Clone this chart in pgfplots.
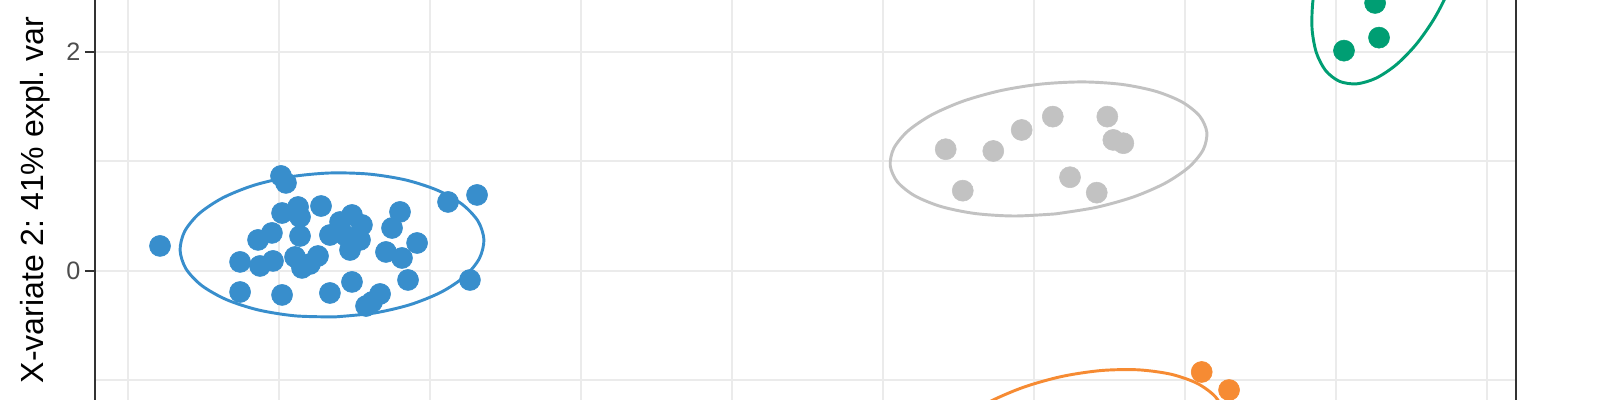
\documentclass[border=0pt]{standalone}
\usepackage{fontspec}
\setmainfont{Liberation Sans}
\usepackage{pgfplots}
\pgfplotsset{compat=1.18}
\frenchspacing
\definecolor{mixblue}{HTML}{388ECC}
\definecolor{mixorange}{HTML}{F68B33}
\definecolor{mixgrey}{HTML}{C2C2C2}
\definecolor{mixgreen}{HTML}{009E73}
\definecolor{gridgrey}{HTML}{EBEBEB}
\definecolor{axisgrey}{HTML}{333333}
\definecolor{textgrey}{HTML}{4D4D4D}

\begin{document}
\begin{tikzpicture}
\begin{axis}[
  scale only axis,
  width=1065.75pt, height=300pt,
  xmin=-0.2165, xmax=9.192,
  ymin=-1.182, ymax=2.474,
  axis line style={draw=none},
  xtick={0,...,9}, xticklabels={},
  ytick={0,2}, minor ytick={-1,1}, ytick pos=left,
  tick align=outside, major tick length=7.5pt, minor tick length=0pt,
  y tick style={draw=axisgrey, line width=1.3pt},
  grid=both,
  major grid style={draw=gridgrey, line width=1.3pt},
  minor grid style={draw=gridgrey, line width=1.3pt},
  /pgf/number format/assume math mode=true,
  yticklabel style={font=\fontsize{18.9}{20}\selectfont, text=textgrey},
  ylabel={X-variate 2: 41\% expl. var},
  every axis y label/.style={at={(rel axis cs:0,0.5)}, xshift=-38.6pt, rotate=90,
    anchor=base, font=\fontsize{24}{28}\selectfont\frenchspacing, text=black},
  pt/.style={only marks, mark=*, mark size=7.9pt, color=#1},
  ell/.style={color=#1, line width=2.2pt, smooth, no marks, line join=round},
]
% blue group
\addplot[pt=mixblue] coordinates {
(0.214,0.226) (1.015,0.866) (1.048,0.802) (1.022,0.527) (1.128,0.582)
(1.141,0.491) (1.280,0.591) (0.863,0.281) (0.955,0.345) (1.141,0.317)
(0.744,0.080) (0.876,0.043) (0.962,0.089) (1.108,0.125) (1.207,0.061)
(1.260,0.134) (1.154,0.025) (0.744,-0.195) (1.022,-0.222) (1.406,0.445)
(1.485,0.509) (1.551,0.418) (1.445,0.317) (1.538,0.281) (1.472,0.189)
(1.339,0.326) (1.803,0.537) (1.750,0.390) (1.710,0.171) (1.816,0.116)
(1.916,0.253) (1.485,-0.103) (1.339,-0.204) (1.856,-0.085) (1.671,-0.213)
(1.618,-0.286) (1.578,-0.323) (2.121,0.628) (2.313,0.692) (2.266,-0.085)
};
% grey group
\addplot[pt=mixgrey] coordinates {
(5.416,1.110) (5.731,1.094) (5.919,1.286) (6.125,1.408) (6.486,1.408)
(6.526,1.195) (6.592,1.165) (5.529,0.731) (6.239,0.854) (6.416,0.713)
};
% green group
\addplot[pt=mixgreen] coordinates {
(8.053,2.011) (8.285,2.130) (8.259,2.447) (8.173,2.520) (8.345,2.502)
};
% orange group
\addplot[pt=mixorange] coordinates {
(5.895,-1.186) (6.581,-1.232) (7.111,-0.926) (7.292,-1.091)
};
% confidence ellipses
\addplot[ell=mixblue] coordinates {
(1.3694,-0.4229) (1.1085,-0.4130) (0.8643,-0.3590) (0.6533,-0.2644) (0.4901,-0.1359)
(0.3855,0.0179) (0.3469,0.1865) (0.3769,0.3583) (0.4733,0.5219) (0.6297,0.6658)
(0.8353,0.7804) (1.0763,0.8578) (1.3360,0.8927) (1.5969,0.8828) (1.8411,0.8288)
(2.0521,0.7342) (2.2153,0.6057) (2.3199,0.4519) (2.3585,0.2833) (2.3285,0.1115)
(2.2321,-0.0521) (2.0757,-0.1960) (1.8701,-0.3106) (1.6291,-0.3880) (1.3694,-0.4229)
};
\addplot[ell=mixgrey] coordinates {
(6.1420,0.5188) (5.8693,0.4996) (5.6118,0.5222) (5.3877,0.5851) (5.2117,0.6839)
(5.0961,0.8119) (5.0487,0.9603) (5.0727,1.1191) (5.1665,1.2775) (5.3237,1.4245)
(5.5336,1.5504) (5.7819,1.6464) (6.0516,1.7060) (6.3243,1.7252) (6.5818,1.7026)
(6.8059,1.6397) (6.9819,1.5409) (7.0975,1.4129) (7.1449,1.2645) (7.1209,1.1057)
(7.0271,0.9473) (6.8699,0.8003) (6.6600,0.6744) (6.4117,0.5784) (6.1420,0.5188)
};
\addplot[ell=mixgreen] coordinates {
(8.6931,3.9000) (8.5794,3.9232) (8.4505,3.8711) (8.3155,3.7468) (8.1833,3.5592)
(8.0629,3.3209) (7.9627,3.0481) (7.8895,2.7595) (7.8481,2.4746) (7.8415,2.2130)
(7.8701,1.9925) (7.9320,1.8280) (8.0229,1.7308) (8.1366,1.7076) (8.2655,1.7597)
(8.4005,1.8840) (8.5327,2.0716) (8.6531,2.3099) (8.7533,2.5827) (8.8265,2.8713)
(8.8679,3.1562) (8.8745,3.4178) (8.8459,3.6383) (8.7840,3.8028) (8.6931,3.9000)
};
\addplot[ell=mixorange] coordinates {
(6.3814,-2.2118) (6.6300,-2.1167) (6.8553,-1.9854) (7.0415,-1.8273) (7.1764,-1.6529)
(7.2504,-1.4740) (7.2588,-1.3030) (7.2008,-1.1514) (7.0804,-1.0297) (6.9059,-0.9461)
(6.6891,-0.9062) (6.4448,-0.9129) (6.1896,-0.9656) (5.9410,-1.0607) (5.7157,-1.1920)
(5.5295,-1.3501) (5.3946,-1.5245) (5.3206,-1.7034) (5.3122,-1.8744) (5.3702,-2.0260)
(5.4906,-2.1477) (5.6651,-2.2313) (5.8819,-2.2712) (6.1262,-2.2645) (6.3814,-2.2118)
};
\coordinate (sw) at (rel axis cs:0,0);
\coordinate (ne) at (rel axis cs:1,1);
\end{axis}
\draw[axisgrey, line width=1.5pt] (sw) -- (sw|-ne);
\draw[axisgrey, line width=1.5pt] (ne|-sw) -- (ne);
\pgfresetboundingbox
\path ([xshift=-71.25pt]sw) rectangle ([xshift=63pt]ne);
\end{tikzpicture}
\end{document}
